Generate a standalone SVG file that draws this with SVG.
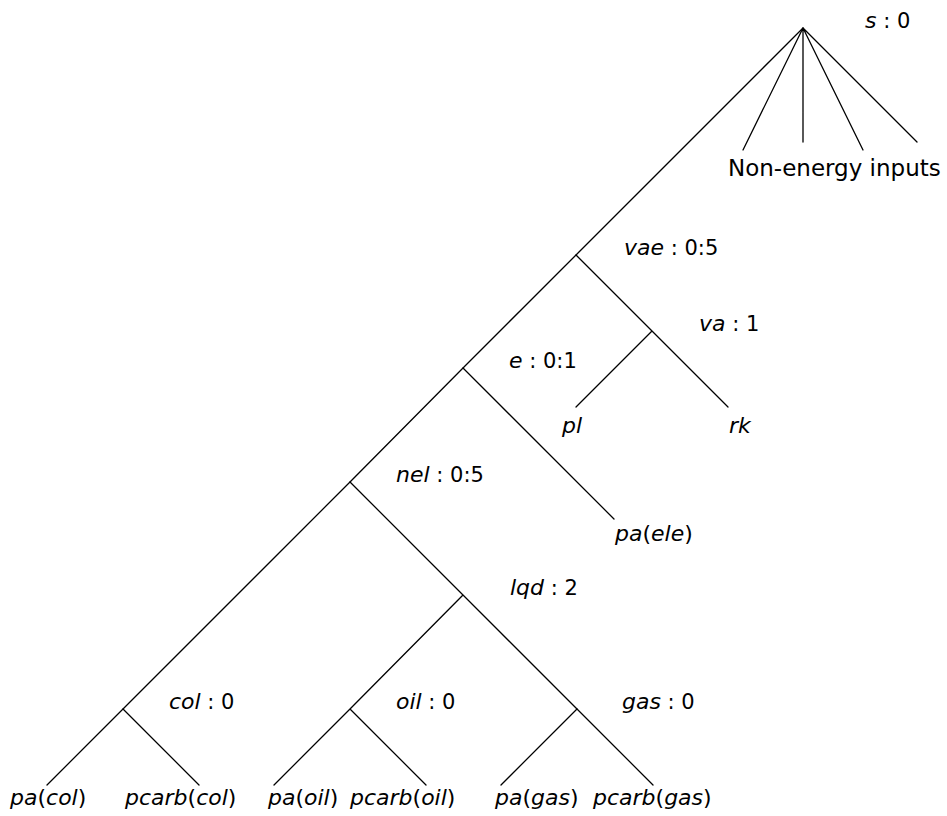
<svg xmlns="http://www.w3.org/2000/svg" width="947" height="816" viewBox="0 0 947 816">
<style>
.edge{stroke:#000;stroke-width:1.3;fill:none;stroke-linecap:round}
text{font-family:"DejaVu Sans","Liberation Sans",sans-serif;fill:#000}
.lab{font-size:21px}
.leaf{font-size:22px}
.i{font-style:italic}
.lab .i{font-size:22px}
</style>
<rect width="947" height="816" fill="#fff"/>
<g id="connectors">
<path class="edge" d="M803,28 L576,255 L463,368 L350,482 L123,709 L47,785"/>
<path class="edge" d="M803,28 L743,150 M803,28 L803,142 M803,28 L863,150 M803,28 L917,142"/>
<path class="edge" d="M576,255 L652,331 L728,407 M652,331 L576,407"/>
<path class="edge" d="M463,368 L614,519"/>
<path class="edge" d="M350,482 L463,595 L577,709 L653,785 M463,595 L350,709 L274,785 M350,709 L426,785"/>
<path class="edge" d="M123,709 L199,785 M577,709 L501,785"/>
</g>
<g id="node-s"><text class="lab" x="865" y="28"><tspan class="i">s</tspan> : 0</text></g>
<g id="node-nonenergy"><text x="728" y="176" font-size="23">Non-energy inputs</text></g>
<g id="node-vae"><text class="lab" x="624" y="255"><tspan class="i">vae</tspan> : 0:5</text></g>
<g id="node-va"><text class="lab" x="699" y="331"><tspan class="i">va</tspan> : 1</text></g>
<g id="node-e"><text class="lab" x="509" y="368"><tspan class="i">e</tspan> : 0:1</text></g>
<g id="node-pl"><text class="leaf i" x="562" y="433">pl</text></g>
<g id="node-rk"><text class="leaf i" x="729" y="433">rk</text></g>
<g id="node-nel"><text class="lab" x="396" y="482"><tspan class="i">nel</tspan> : 0:5</text></g>
<g id="node-paele"><text class="leaf" x="615" y="541"><tspan class="i">pa</tspan>(<tspan class="i">ele</tspan>)</text></g>
<g id="node-lqd"><text class="lab" x="510" y="595"><tspan class="i">lqd</tspan> : 2</text></g>
<g id="node-col"><text class="lab" x="169" y="709"><tspan class="i">col</tspan> : 0</text></g>
<g id="node-oil"><text class="lab" x="396" y="709"><tspan class="i">oil</tspan> : 0</text></g>
<g id="node-gas"><text class="lab" x="622" y="709"><tspan class="i">gas</tspan> : 0</text></g>
<g id="node-pacol"><text class="leaf" x="10" y="805"><tspan class="i">pa</tspan>(<tspan class="i">col</tspan>)</text></g>
<g id="node-pcarbcol"><text class="leaf" x="125" y="805"><tspan class="i">pcarb</tspan>(<tspan class="i">col</tspan>)</text></g>
<g id="node-paoil"><text class="leaf" x="268" y="805"><tspan class="i">pa</tspan>(<tspan class="i">oil</tspan>)</text></g>
<g id="node-pcarboil"><text class="leaf" x="350" y="805"><tspan class="i">pcarb</tspan>(<tspan class="i">oil</tspan>)</text></g>
<g id="node-pagas"><text class="leaf" x="495" y="805"><tspan class="i">pa</tspan>(<tspan class="i">gas</tspan>)</text></g>
<g id="node-pcarbgas"><text class="leaf" x="593" y="805"><tspan class="i">pcarb</tspan>(<tspan class="i">gas</tspan>)</text></g>
</svg>
